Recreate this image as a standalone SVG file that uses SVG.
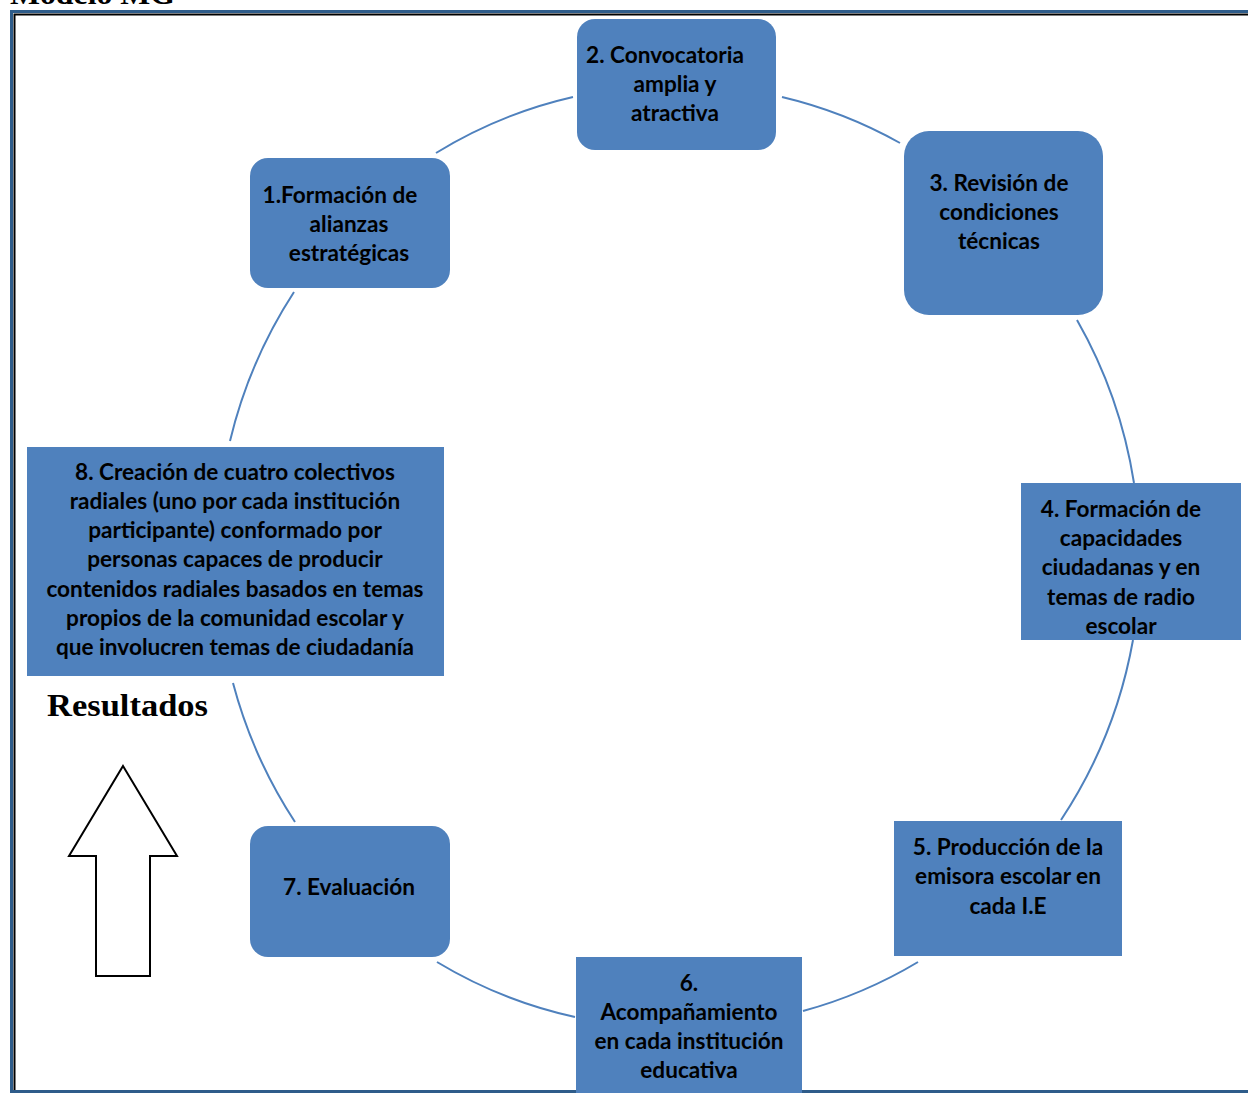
<svg xmlns="http://www.w3.org/2000/svg" width="1248" height="1093" viewBox="0 0 1248 1093">
<style>
.box{fill:#4F81BD;}
.t{font-family:Lato,"Open Sans",sans-serif;font-weight:bold;font-size:22.6px;fill:#000;text-anchor:middle;}
.arc{fill:none;stroke:#4F81BD;stroke-width:2;}
.serif{font-family:"Liberation Serif","DejaVu Serif",serif;font-weight:bold;fill:#000;}
</style>
<defs>
<clipPath id="c4"><rect x="1021" y="483" width="220" height="157"/></clipPath>
</defs>
<rect width="1248" height="1093" fill="#fff"/>
<text class="serif" x="10" y="4" font-size="29" textLength="165" lengthAdjust="spacingAndGlyphs">Modelo MG</text>
<g id="frame">
<path d="M11.5 1093 V11.5 H1248" fill="none" stroke="#2E5C8A" stroke-width="3"/>
<path d="M14.5 1093 V14.5 H1248" fill="none" stroke="#000" stroke-width="2"/>
<path d="M11 1091.5 H1248" fill="none" stroke="#2E5C8A" stroke-width="3"/>
</g>
<g id="connectors">
<path class="arc" d="M436 153 A462 472 0 0 1 573 97"/>
<path class="arc" d="M782 97 A462 472 0 0 1 900 143"/>
<path class="arc" d="M1077 320 A462 472 0 0 1 1134 483"/>
<path class="arc" d="M1133 640 A462 472 0 0 1 1061 820"/>
<path class="arc" d="M918 962 A462 472 0 0 1 803 1011"/>
<path class="arc" d="M575 1017 A462 472 0 0 1 437 962"/>
<path class="arc" d="M295 822 A462 472 0 0 1 233 683"/>
<path class="arc" d="M230 441 A462 472 0 0 1 294 292"/>
</g>
<g id="n1">
<rect class="box" x="250" y="158" width="200" height="130" rx="18"/>
<text class="t" x="340" y="203">1.Formación de</text>
<text class="t" x="349" y="232">alianzas</text>
<text class="t" x="349" y="261">estratégicas</text>
</g>
<g id="n2">
<rect class="box" x="577" y="19" width="199" height="131" rx="18"/>
<text class="t" x="665" y="63">2. Convocatoria</text>
<text class="t" x="675" y="92">amplia y</text>
<text class="t" x="675" y="121">atractiva</text>
</g>
<g id="n3">
<rect class="box" x="904" y="131" width="199" height="184" rx="25"/>
<text class="t" x="999" y="191">3. Revisión de</text>
<text class="t" x="999" y="220">condiciones</text>
<text class="t" x="999" y="249">técnicas</text>
</g>
<g id="n4">
<rect class="box" x="1021" y="483" width="220" height="157"/>
<g clip-path="url(#c4)">
<text class="t" x="1121" y="517">4. Formación de</text>
<text class="t" x="1121" y="546">capacidades</text>
<text class="t" x="1121" y="575">ciudadanas y en</text>
<text class="t" x="1121" y="605">temas de radio</text>
<text class="t" x="1121" y="634">escolar</text>
</g>
</g>
<g id="n5">
<rect class="box" x="894" y="821" width="228" height="135"/>
<text class="t" x="1008" y="855">5. Producción de la</text>
<text class="t" x="1008" y="884">emisora escolar en</text>
<text class="t" x="1008" y="914">cada I.E</text>
</g>
<g id="n6">
<rect class="box" x="576" y="957" width="226" height="136"/>
<text class="t" x="689" y="991">6.</text>
<text class="t" x="689" y="1020">Acompañamiento</text>
<text class="t" x="689" y="1049">en cada institución</text>
<text class="t" x="689" y="1078">educativa</text>
</g>
<g id="n7">
<rect class="box" x="250" y="826" width="200" height="131" rx="18"/>
<text class="t" x="349" y="895">7. Evaluación</text>
</g>
<g id="n8">
<rect class="box" x="27" y="447" width="417" height="229"/>
<text class="t" x="235" y="480">8. Creación de cuatro colectivos</text>
<text class="t" x="235" y="509">radiales (uno por cada institución</text>
<text class="t" x="235" y="538">participante) conformado por</text>
<text class="t" x="235" y="567">personas capaces de producir</text>
<text class="t" x="235" y="597">contenidos radiales basados en temas</text>
<text class="t" x="235" y="626">propios de la comunidad escolar y</text>
<text class="t" x="235" y="655">que involucren temas de ciudadanía</text>
</g>
<g id="resultados">
<text class="serif" x="47" y="716" font-size="31" textLength="161" lengthAdjust="spacingAndGlyphs">Resultados</text>
<polygon points="123,766 177,856 150,856 150,976 96,976 96,856 69,856" fill="#fff" stroke="#000" stroke-width="2"/>
</g>
</svg>
